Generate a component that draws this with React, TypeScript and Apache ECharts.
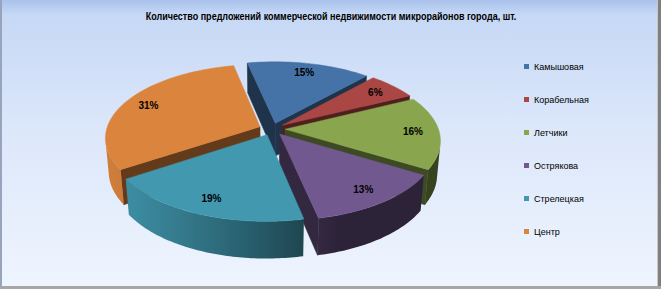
import React, { useEffect, useRef } from "react";
import * as echarts from "echarts";

const categories = ["Камышовая", "Корабельная", "Летчики", "Острякова", "Стрелецкая", "Центр"];
const values = [15, 6, 16, 13, 19, 31];
const colors = ["#4572A7", "#AA4643", "#89A54E", "#71588F", "#4198AF", "#DB843D"];
const titleText = "Количество предложений коммерческой недвижимости микрорайонов города, шт.";

function shade(hex: string, f: number): string {
  const n = parseInt(hex.slice(1), 16);
  const r = Math.min(255, Math.round(((n >> 16) & 255) * f));
  const g = Math.min(255, Math.round(((n >> 8) & 255) * f));
  const b = Math.min(255, Math.round((n & 255) * f));
  return "rgb(" + r + "," + g + "," + b + ")";
}

export default function App() {
  const ref = useRef<HTMLDivElement>(null);
  useEffect(() => {
    document.body.style.margin = "0";
    const chart = echarts.init(ref.current!, null, { renderer: "svg" });
    const total = values.reduce((a, b) => a + b, 0);
    const CX = 272, CY = 129, F = 920, DIST = 6;
    const ALPHA = (28 * Math.PI) / 180;
    const SA = Math.sin(ALPHA), CA = Math.cos(ALPHA);
    const H = 0.25, EXP = 0.085;
    const START = (-12 * Math.PI) / 180;
    const TWO_PI = Math.PI * 2;
    const LX = -0.95, LZ = 0.31;

    const project = (u: number, y: number, v: number): number[] => {
      const depth = DIST - (y * SA + v * CA);
      const up = y * CA - v * SA;
      return [CX + (F * u) / depth, CY - (F * up) / depth];
    };

    const starts: number[] = [];
    let cum = 0;
    values.forEach((v) => {
      starts.push(START + (cum / total) * TWO_PI);
      cum += v;
    });
    const depthOf = (i: number) => {
      const am = starts[i] + ((values[i] / total) * TWO_PI) / 2;
      const v = -(EXP + 0.5) * Math.cos(am);
      return DIST - v * CA;
    };
    const order = values.map((_, i) => i).sort((a, b) => depthOf(b) - depthOf(a));
    const rank: number[] = [];
    order.forEach((idx, pos) => (rank[idx] = pos));

    const camX = 0, camZ = DIST * CA;
    const visible = (px: number, pz: number, nx: number, nz: number) =>
      (camX - px) * nx + (camZ - pz) * nz > 0;

    const renderItem = (params: any, api: any) => {
      const i = params.dataIndex;
      const val = api.value(0);
      const a1 = starts[i];
      const a2 = a1 + (val / total) * TWO_PI;
      const am = (a1 + a2) / 2;
      const ex = EXP * Math.sin(am);
      const ez = -EXP * Math.cos(am);
      const P = (ang: number, r: number, y: number) =>
        project(ex + r * Math.sin(ang), y, ez - r * Math.cos(ang));
      const base = colors[i];
      const zb = rank[i] * 100;
      const children: any[] = [];

      const sides = [
        { a: a1, nx: -Math.cos(a1), nz: -Math.sin(a1) },
        { a: a2, nx: Math.cos(a2), nz: Math.sin(a2) },
      ];
      sides.forEach((s) => {
        const mx = ex + 0.5 * Math.sin(s.a);
        const mz = ez - 0.5 * Math.cos(s.a);
        if (!visible(mx, mz, s.nx, s.nz)) return;
        const c = shade(base, 0.45);
        children.push({
          type: "polygon",
          shape: { points: [P(s.a, 0, 0), P(s.a, 1, 0), P(s.a, 1, -H), P(s.a, 0, -H)] },
          style: { fill: c, stroke: c, lineWidth: 0.6 },
          z2: zb + 10,
        });
      });

      const nS = Math.max(8, Math.ceil(((a2 - a1) * 180) / Math.PI));
      const vis: number[] = [];
      for (let k = 0; k <= nS; k++) {
        const b = a1 + ((a2 - a1) * k) / nS;
        const nx = Math.sin(b), nz = -Math.cos(b);
        if (visible(ex + nx, ez + nz, nx, nz)) vis.push(b);
      }
      if (vis.length >= 2) {
        const topPts = vis.map((b) => P(b, 1, 0));
        const botPts = vis.map((b) => P(b, 1, -H)).reverse();
        const xs = topPts.map((p) => p[0]);
        const x0 = Math.min(...xs), x1 = Math.max(...xs);
        const stops = vis
          .map((b, k) => {
            const lit = Math.max(0, Math.sin(b) * LX + -Math.cos(b) * LZ);
            return { offset: x1 > x0 ? (xs[k] - x0) / (x1 - x0) : 0, color: shade(base, 0.4 + 0.55 * lit) };
          })
          .sort((p, q) => p.offset - q.offset);
        children.push({
          type: "polygon",
          shape: { points: topPts.concat(botPts) },
          style: {
            fill: { type: "linear", x: x0, y: 0, x2: x1 > x0 ? x1 : x0 + 1, y2: 0, global: true, colorStops: stops },
          },
          z2: zb + 20,
        });
      }

      const step = (2 * Math.PI) / 180;
      const pts: number[][] = [P(a1, 0, 0)];
      const nTop = Math.max(4, Math.ceil((a2 - a1) / step));
      for (let k = 0; k <= nTop; k++) pts.push(P(a1 + ((a2 - a1) * k) / nTop, 1, 0));
      children.push({
        type: "polygon",
        shape: { points: pts },
        style: { fill: base, stroke: base, lineWidth: 0.5 },
        z2: zb + 50,
      });

      const lp = P(am, 0.83, 0);
      children.push({
        type: "text",
        x: lp[0],
        y: lp[1],
        style: {
          text: Math.round((val / total) * 100) + "%",
          fill: "#000",
          fontSize: 10,
          fontWeight: "bold",
          fontFamily: "'Liberation Sans', Arial, sans-serif",
          align: "center",
          verticalAlign: "middle",
        },
        z2: 2000,
      });
      return { type: "group", children };
    };

    chart.setOption({
      animation: false,
      backgroundColor: {
        type: "linear",
        x: 0, y: 0, x2: 0, y2: 1,
        colorStops: [
          { offset: 0, color: "#A9C2EC" },
          { offset: 0.05, color: "#C6D8F5" },
          { offset: 0.45, color: "#DCE7FA" },
          { offset: 1, color: "#EFF5FE" },
        ],
      },
      legend: {
        orient: "vertical",
        left: 519,
        top: 56,
        itemGap: 22,
        itemHeight: 5,
        itemWidth: 5,
        icon: "rect",
        data: categories,
        textStyle: {
          fontSize: 9,
          lineHeight: 11,
          color: "#000",
          fontFamily: "'Liberation Sans', Arial, sans-serif",
        },
      },
      graphic: [
        {
          type: "text",
          x: 331,
          y: 16,
          scaleX: 0.82,
          style: {
            text: titleText,
            fill: "#000",
            fontSize: 11,
            fontWeight: "bold",
            fontFamily: "'Liberation Sans', Arial, sans-serif",
            align: "center",
            verticalAlign: "middle",
          },
          z: 50,
        },
        { type: "rect", shape: { x: 0, y: 0, width: 2, height: 289 }, style: { fill: "#98A4BC" }, z: 100 },
        { type: "rect", shape: { x: 657, y: 0, width: 1, height: 289 }, style: { fill: "#C8C8C8" }, z: 100 },
        { type: "rect", shape: { x: 658, y: 0, width: 3, height: 289 }, style: { fill: "#7F7F7F" }, z: 100 },
        { type: "rect", shape: { x: 0, y: 286, width: 661, height: 3 }, style: { fill: "#A6A6A6" }, z: 100 },
      ],
      series: [
        {
          type: "pie",
          radius: [0, 0],
          center: [-100, -100],
          silent: true,
          label: { show: false },
          labelLine: { show: false },
          data: categories.map((name, i) => ({ name, value: values[i], itemStyle: { color: colors[i] } })),
        },
        {
          type: "custom",
          coordinateSystem: "none",
          renderItem,
          silent: true,
          data: values.map((v, i) => ({ name: categories[i], value: [v] })),
        },
      ],
    });
    return () => chart.dispose();
  }, []);
  return (
    <div
      ref={ref}
      style={{ position: "absolute", left: 0, top: 0, width: 661, height: 289 }}
    />
  );
}
